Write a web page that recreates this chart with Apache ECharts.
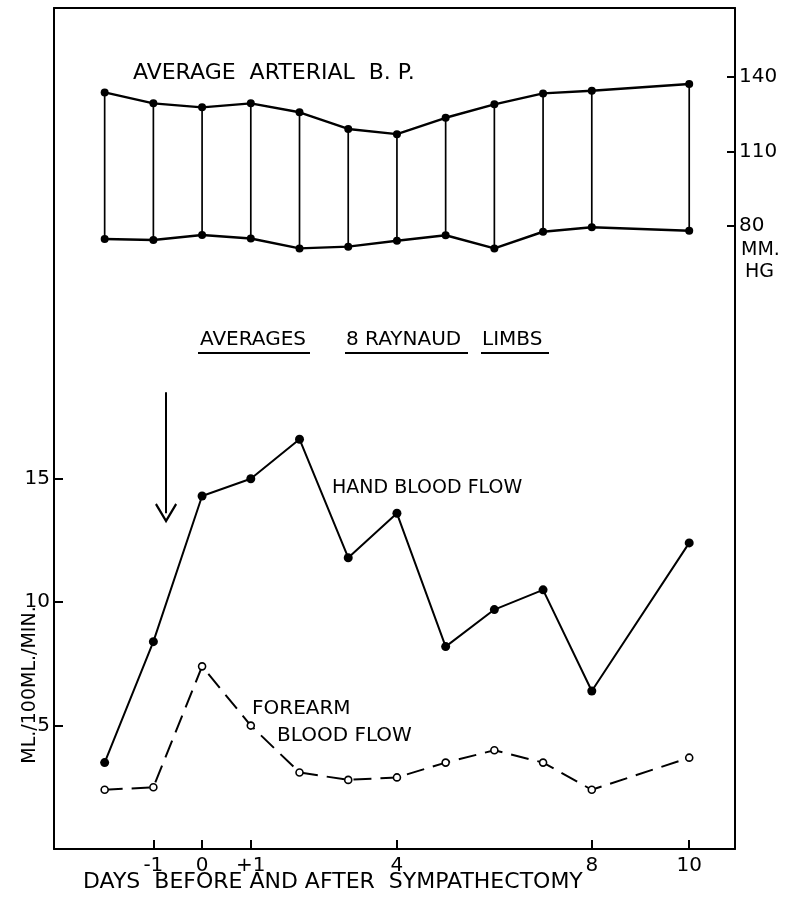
<!DOCTYPE html>
<html>
<head>
<meta charset="utf-8">
<script src="https://cdn.jsdelivr.net/npm/echarts@6/dist/echarts.min.js"></script>
<style>
html,body{margin:0;padding:0;background:#fff;}
#chart{width:792px;height:901px;}
</style>
</head>
<body>
<div id="chart"></div>
<script>
// ---- data ----
var days = [-2, -1, 0, 1, 2, 3, 4, 5, 6, 7, 8, 10];
var systolic = [133.8, 129.4, 127.8, 129.4, 125.8, 119.1, 117.0, 123.6, 129.0, 133.4, 134.5, 137.2];
var diastolic = [74.8, 74.4, 76.4, 75.0, 71.0, 71.7, 74.1, 76.3, 71.0, 77.7, 79.5, 78.1];
var handFlow = [3.5, 8.4, 14.3, 15.0, 16.6, 11.8, 13.6, 8.2, 9.7, 10.5, 6.4, 12.4];
var forearmFlow = [2.4, 2.5, 7.4, 5.0, 3.1, 2.8, 2.9, 3.5, 4.0, 3.5, 2.4, 3.7];
var dayTicks = [-1, 0, 1, 4, 8, 10];
var dayTickLabels = ['-1', '0', '+1', '4', '8', '10'];
var bpTicks = [80, 110, 140];
var flowTicks = [5, 10, 15];
var arrowDay = -0.74, arrowTop = 18.5, arrowEnd = 13.6;

function pairs(xs, ys) { return xs.map(function (x, i) { return [x, ys[i]]; }); }

var FONT = '"DejaVu Sans", sans-serif';
var chart = echarts.init(document.getElementById('chart'), null, {renderer: 'canvas'});
var lineAxis = {show: true, onZero: false, lineStyle: {color: '#000', width: 2}};
var noTick = {show: false};
var noLabel = {show: false};
var noSplit = {show: false};

function dayLabel(v) {
  for (var i = 0; i < dayTicks.length; i++) if (Math.abs(dayTicks[i] - v) < 1e-6) return dayTickLabels[i];
  return '';
}

var option = {
  animation: false,
  backgroundColor: '#fff',
  grid: [
    {left: 54, right: 57, top: 8, height: 372},
    {left: 54, right: 57, top: 380, bottom: 52}
  ],
  xAxis: [
    {gridIndex: 0, type: 'value', position: 'top', min: -3.04, max: 10.94,
     axisLine: lineAxis, axisTick: noTick, axisLabel: noLabel, splitLine: noSplit},
    {gridIndex: 1, type: 'value', position: 'bottom', min: -3.04, max: 10.94,
     axisLine: lineAxis,
     axisTick: {show: true, inside: true, length: 9, customValues: dayTicks, lineStyle: {color: '#000', width: 2}},
     axisLabel: {show: true, customValues: dayTicks, formatter: dayLabel, margin: 7,
                 color: '#000', fontFamily: FONT, fontSize: 20},
     splitLine: noSplit}
  ],
  yAxis: [
    {gridIndex: 0, type: 'value', position: 'right', min: 18, max: 167.8,
     axisLine: lineAxis,
     axisTick: {show: true, inside: true, length: 8, customValues: bpTicks, lineStyle: {color: '#000', width: 2}},
     axisLabel: {show: true, customValues: bpTicks, margin: 4, color: '#000', fontFamily: FONT, fontSize: 20},
     splitLine: noSplit},
    {gridIndex: 0, type: 'value', position: 'left', min: 18, max: 167.8,
     axisLine: lineAxis, axisTick: noTick, axisLabel: noLabel, splitLine: noSplit},
    {gridIndex: 1, type: 'value', position: 'left', min: 0, max: 19,
     axisLine: lineAxis,
     axisTick: {show: true, inside: true, length: 9, customValues: flowTicks, lineStyle: {color: '#000', width: 2}},
     axisLabel: {show: true, customValues: flowTicks, margin: 4, color: '#000', fontFamily: FONT, fontSize: 20},
     splitLine: noSplit},
    {gridIndex: 1, type: 'value', position: 'right', min: 0, max: 19,
     axisLine: lineAxis, axisTick: noTick, axisLabel: noLabel, splitLine: noSplit}
  ],
  series: [
    {type: 'custom', xAxisIndex: 0, yAxisIndex: 0,
     data: days.map(function (d, i) { return [d, systolic[i], diastolic[i]]; }),
     encode: {x: 0, y: [1, 2]},
     renderItem: function (params, api) {
       var x = api.value(0);
       var p1 = api.coord([x, api.value(1)]);
       var p2 = api.coord([x, api.value(2)]);
       return {type: 'line', shape: {x1: p1[0], y1: p1[1], x2: p2[0], y2: p2[1]},
               style: {stroke: '#000', lineWidth: 1.7}};
     }},
    {type: 'line', name: 'systolic', xAxisIndex: 0, yAxisIndex: 0, data: pairs(days, systolic),
     symbol: 'circle', symbolSize: 8, itemStyle: {color: '#000'},
     lineStyle: {color: '#000', width: 2.4}},
    {type: 'line', name: 'diastolic', xAxisIndex: 0, yAxisIndex: 0, data: pairs(days, diastolic),
     symbol: 'circle', symbolSize: 8, itemStyle: {color: '#000'},
     lineStyle: {color: '#000', width: 2.4}},
    {type: 'line', name: 'hand', xAxisIndex: 1, yAxisIndex: 2, data: pairs(days, handFlow),
     symbol: 'circle', symbolSize: 9, itemStyle: {color: '#000'},
     lineStyle: {color: '#000', width: 2},
     markLine: {silent: true, animation: false,
       symbol: ['none', 'path://M10,0 L20,18.5 L18.4,20 L10,4.5 L1.6,20 L0,18.5 Z'],
       symbolSize: [22, 20],
       label: {show: false},
       lineStyle: {color: '#000', width: 2, type: 'solid'},
       data: [[{coord: [arrowDay, arrowTop]}, {coord: [arrowDay, arrowEnd]}]]}},
    {type: 'line', name: 'forearm', xAxisIndex: 1, yAxisIndex: 2, data: pairs(days, forearmFlow),
     symbol: 'circle', symbolSize: 7,
     itemStyle: {color: '#fff', borderColor: '#000', borderWidth: 1.6},
     lineStyle: {color: '#000', width: 2, type: [18, 9]}}
  ],
  graphic: [
    {type: 'text', x: 133, y: 73, style: {text: 'AVERAGE  ARTERIAL  B. P.', font: '22px ' + FONT, fill: '#000', align: 'left', verticalAlign: 'middle'}},
    {type: 'text', x: 200, y: 340, style: {text: 'AVERAGES', font: '20px ' + FONT, fill: '#000', align: 'left', verticalAlign: 'middle'}},
    {type: 'text', x: 346, y: 340, style: {text: '8 RAYNAUD', font: '20px ' + FONT, fill: '#000', align: 'left', verticalAlign: 'middle'}},
    {type: 'text', x: 482, y: 340, style: {text: 'LIMBS', font: '20px ' + FONT, fill: '#000', align: 'left', verticalAlign: 'middle'}},
    {type: 'line', shape: {x1: 198, y1: 353, x2: 310, y2: 353}, style: {stroke: '#000', lineWidth: 2}},
    {type: 'line', shape: {x1: 345, y1: 353, x2: 468, y2: 353}, style: {stroke: '#000', lineWidth: 2}},
    {type: 'line', shape: {x1: 481, y1: 353, x2: 549, y2: 353}, style: {stroke: '#000', lineWidth: 2}},
    {type: 'text', x: 332, y: 488, style: {text: 'HAND BLOOD FLOW', font: '19px ' + FONT, fill: '#000', align: 'left', verticalAlign: 'middle'}},
    {type: 'text', x: 252, y: 709, style: {text: 'FOREARM', font: '20px ' + FONT, fill: '#000', align: 'left', verticalAlign: 'middle'}},
    {type: 'text', x: 277, y: 736, style: {text: 'BLOOD FLOW', font: '20px ' + FONT, fill: '#000', align: 'left', verticalAlign: 'middle'}},
    {type: 'text', x: 741, y: 250, style: {text: 'MM.', font: '19px ' + FONT, fill: '#000', align: 'left', verticalAlign: 'middle'}},
    {type: 'text', x: 745, y: 272, style: {text: 'HG', font: '19px ' + FONT, fill: '#000', align: 'left', verticalAlign: 'middle'}},
    {type: 'text', x: 30, y: 685, rotation: Math.PI / 2, style: {text: 'ML./100ML./MIN.', font: '19px ' + FONT, fill: '#000', align: 'center', verticalAlign: 'middle'}},
    {type: 'text', x: 83, y: 882, style: {text: 'DAYS  BEFORE AND AFTER  SYMPATHECTOMY', font: '22px ' + FONT, fill: '#000', align: 'left', verticalAlign: 'middle'}}
  ]
};
chart.setOption(option);
</script>
</body>
</html>
